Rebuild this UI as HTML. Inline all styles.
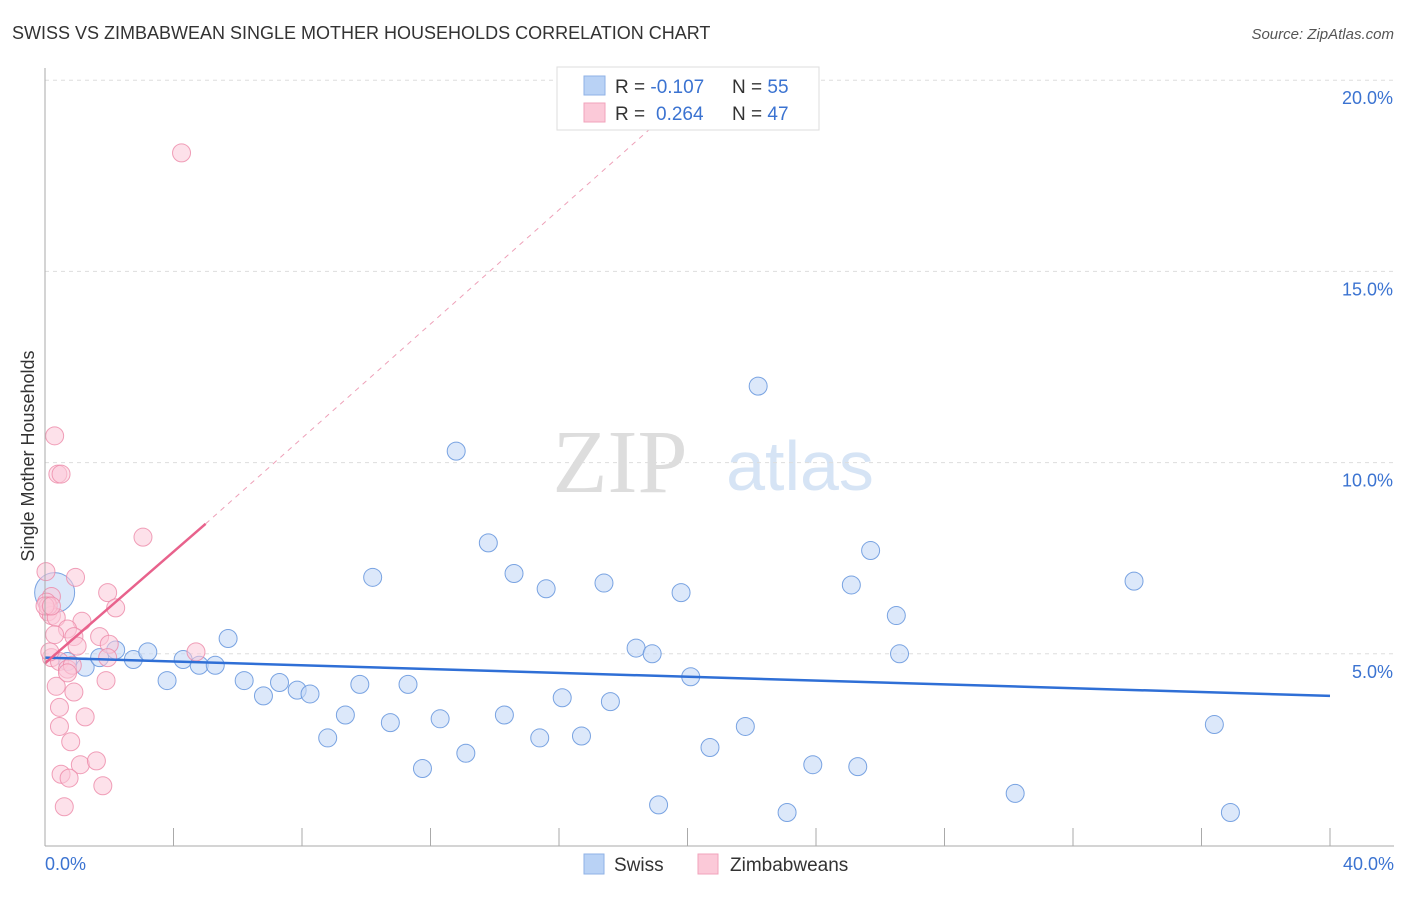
<!DOCTYPE html>
<html><head><meta charset="utf-8"><style>
body{margin:0;background:#fff;font-family:"Liberation Sans",sans-serif}
</style></head><body>
<svg id="c" width="1406" height="892" xmlns="http://www.w3.org/2000/svg" style="font-family:'Liberation Sans',sans-serif">
<text x="12" y="39" font-size="18" fill="#333">SWISS VS ZIMBABWEAN SINGLE MOTHER HOUSEHOLDS CORRELATION CHART</text>
<text x="1394" y="39" font-size="15" fill="#555" text-anchor="end" font-style="italic">Source: ZipAtlas.com</text>
<text x="34" y="456" font-size="18" fill="#333" text-anchor="middle" transform="rotate(-90 34 456)">Single Mother Households</text>
<text x="620" y="492" font-size="90" fill="#ddd" font-family="Liberation Serif" text-anchor="middle">ZIP</text>
<text x="800" y="490" font-size="70" fill="#d6e4f5" text-anchor="middle">atlas</text>
<g id="grid"></g><g id="pts"></g><g id="lines"></g>
<line x1="45" y1="68" x2="45" y2="846" stroke="#aaa"/>
<line x1="45" y1="846" x2="1394" y2="846" stroke="#aaa"/>
<text x="45" y="870" font-size="18" fill="#3b73d1">0.0%</text>
<text x="1394" y="870" font-size="18" fill="#3b73d1" text-anchor="end">40.0%</text>
<g>
<rect x="557" y="67" width="262" height="63" fill="#fff" stroke="#ddd"/>
<rect x="584" y="76" width="21" height="19" fill="#b9d2f5" stroke="#8fb2e6"/>
<rect x="584" y="103" width="21" height="19" fill="#fbc9d8" stroke="#f2a3bb"/>
<text x="615" y="93" font-size="19" fill="#333">R = <tspan fill="#3b73d1">-0.107</tspan></text>
<text x="732" y="93" font-size="19" fill="#333">N = <tspan fill="#3b73d1">55</tspan></text>
<text x="615" y="120" font-size="19" fill="#333">R = <tspan fill="#3b73d1" x="656">0.264</tspan></text>
<text x="732" y="120" font-size="19" fill="#333">N = <tspan fill="#3b73d1">47</tspan></text>
</g>
<g>
<rect x="584" y="854" width="20" height="20" fill="#b9d2f5" stroke="#8fb2e6"/>
<text x="614" y="871" font-size="19" fill="#333">Swiss</text>
<rect x="698" y="854" width="20" height="20" fill="#fbc9d8" stroke="#f2a3bb"/>
<text x="730" y="871" font-size="19" fill="#333">Zimbabweans</text>
</g>
</svg>
<script>
const yTicks=[5,10,15,20];
const xTicks=[0,4,8,12,16,20,24,28,32,36,40];
const swissX=[0.3,0.7,1.25,1.7,2.2,2.75,3.2,3.8,4.3,4.8,5.3,5.7,6.2,6.8,7.3,7.85,8.25,8.8,9.35,9.8,10.2,10.75,11.3,11.75,12.3,12.8,13.1,13.8,14.3,14.6,15.4,15.6,16.1,16.7,17.4,17.6,18.4,18.9,19.1,19.8,20.1,20.7,21.8,22.2,23.1,23.9,25.1,25.3,25.7,26.5,26.6,30.2,33.9,36.4,36.9];
const swissY=[6.6,4.8,4.65,4.9,5.1,4.85,5.05,4.3,4.85,4.7,4.7,5.4,4.3,3.9,4.25,4.05,3.95,2.8,3.4,4.2,7.0,3.2,4.2,2.0,3.3,10.3,2.4,7.9,3.4,7.1,2.8,6.7,3.85,2.85,6.85,3.75,5.15,5.0,1.05,6.6,4.4,2.55,3.1,12.0,0.85,2.1,6.8,2.05,7.7,6.0,5.0,1.35,6.9,3.15,0.85];
const zimX=[4.25,0.3,0.4,0.5,3.05,0.03,0.95,1.95,0.2,2.2,0.05,0.1,0.2,0.35,1.15,0.7,0.3,1.7,0.9,2.0,1.0,4.7,1.95,0.2,0.45,0.7,0.85,0.35,1.9,0.9,0.7,0.45,1.25,0.45,0.8,1.1,1.6,0.5,0.75,1.8,0.6,0.15,0.1,0.0,0.2];
const zimY=[18.1,10.7,9.7,9.7,8.05,7.15,7.0,6.6,6.5,6.2,6.35,6.1,6.0,5.95,5.85,5.65,5.5,5.45,5.45,5.25,5.2,5.05,4.9,4.9,4.8,4.6,4.7,4.15,4.3,4.0,4.5,3.6,3.35,3.1,2.7,2.1,2.2,1.85,1.75,1.55,1.0,5.05,6.25,6.25,6.25];
const swissTrend=[[0,4.9],[40,3.9]];
const zimTrend=[[0,4.75],[5,8.4]];
const zimDash=[[5,8.4],[19.2,19.0]];
const X=v=>45+v/40*1285, Y=v=>845-v/5*191.2;
const NS="http://www.w3.org/2000/svg";
function mk(tag,attrs,parent){const e=document.createElementNS(NS,tag);for(const k in attrs)e.setAttribute(k,attrs[k]);document.getElementById(parent).appendChild(e);return e;}
yTicks.forEach(t=>{
 const l=mk('line',{x1:45,x2:1394,y1:Y(t),y2:Y(t),stroke:'#ddd','stroke-dasharray':'4,4'},'grid');
 
 
 const tx=mk('text',{x:1393,y:Y(t)+24,'font-size':18,fill:'#3b73d1','text-anchor':'end'},'grid');
 tx.textContent=t.toFixed(1)+'%';
 
 
});
xTicks.forEach(t=>{
 const l=mk('line',{x1:X(t),x2:X(t),y1:828,y2:846,stroke:'#aaa'},'grid');
 
 
});
swissX.forEach((v,i)=>{
 const c=mk('circle',{cx:X(v),cy:Y(swissY[i]),r:i===0?20:9,fill:'#c4d9f6','fill-opacity':0.6,stroke:'#5b8fdb','stroke-opacity':0.8},'pts');
 
 
});
zimX.forEach((v,i)=>{
 const c=mk('circle',{cx:X(v),cy:Y(zimY[i]),r:9,fill:'#fbc9d8','fill-opacity':0.55,stroke:'#ec88a8','stroke-opacity':0.8},'pts');
 
 
});
let l1=mk('line',{x1:X(swissTrend[0][0]),y1:Y(swissTrend[0][1]),x2:X(swissTrend[1][0]),y2:Y(swissTrend[1][1]),stroke:'#2f6fd6','stroke-width':2.5},'lines');


let l2=mk('line',{x1:X(zimTrend[0][0]),y1:Y(zimTrend[0][1]),x2:X(zimTrend[1][0]),y2:Y(zimTrend[1][1]),stroke:'#e8628c','stroke-width':2.5},'lines');


let l3=mk('line',{x1:X(zimDash[0][0]),y1:Y(zimDash[0][1]),x2:X(zimDash[1][0]),y2:Y(zimDash[1][1]),stroke:'#eea0b8','stroke-width':1,'stroke-dasharray':'5,5'},'lines');


</script>
</body></html>
